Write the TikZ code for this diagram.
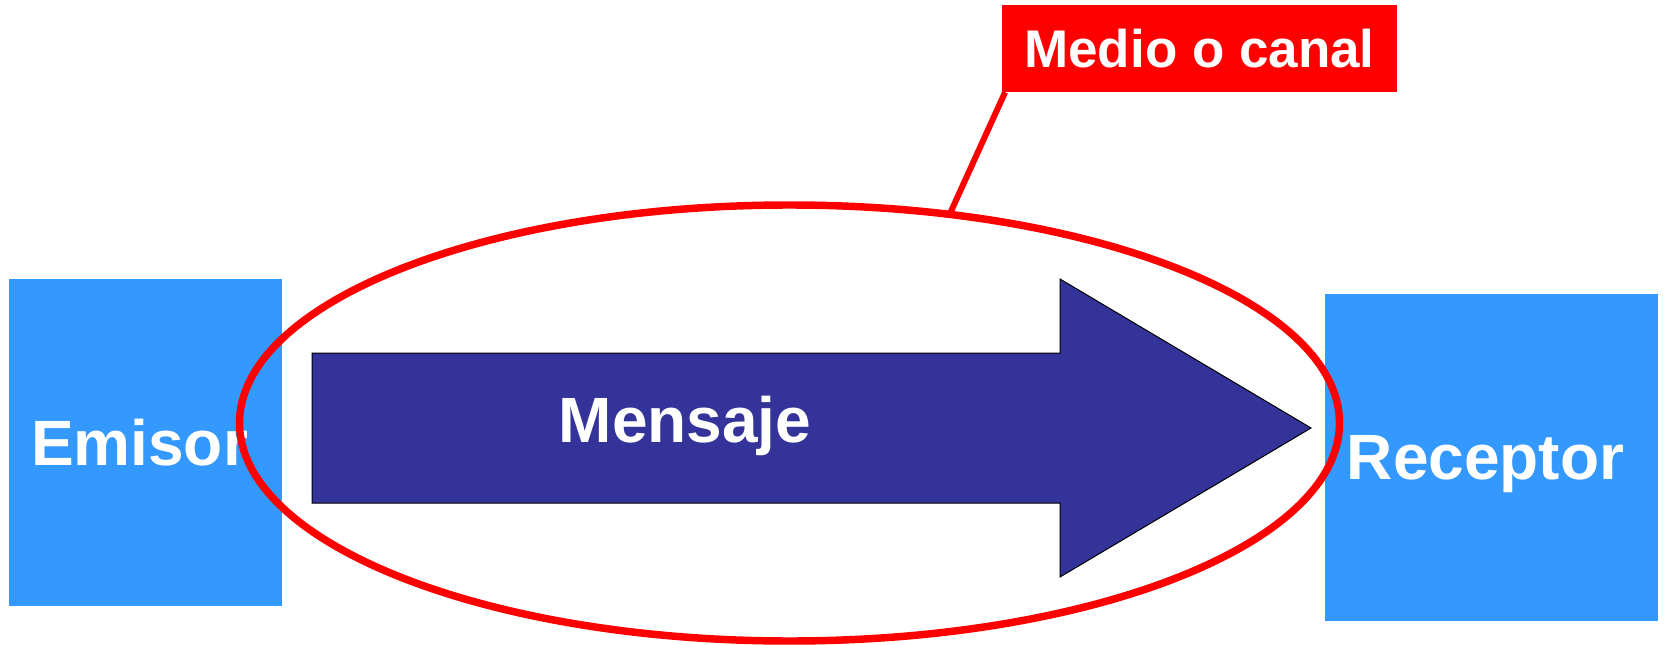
\documentclass[tikz,border=0pt]{standalone}
\usepackage{fontspec}
\setmainfont{Liberation Sans}
\usetikzlibrary{shapes,positioning}
\definecolor{boxblue}{RGB}{51,153,255}
\definecolor{msgblue}{RGB}{51,51,153}
\definecolor{canalred}{RGB}{255,0,0}

\begin{document}
\begin{tikzpicture}[x=0.75pt,y=-0.75pt,
  party/.style={fill=boxblue, text=white, font=\fontsize{48}{56}\selectfont\bfseries,
    minimum height=245.25pt, inner sep=0pt, text depth=0pt}]
\useasboundingbox (0,0) rectangle (1665,645);

% Emisor
\node[party, minimum width=204.75pt] (emisor) at (145.5,442.5) {\hspace*{-9pt}Emisor};

% Receptor
\node[party, minimum width=249.75pt] (receptor) at (1491.5,457.5) {\hspace*{-9pt}Receptor};

% Mensaje
\draw[fill=msgblue, line width=0.75pt] (312,353) -- (1060,353) -- (1060,279) -- (1311,428)
  -- (1060,577) -- (1060,503) -- (312,503) -- cycle;
\node[text=white, font=\fontsize{48}{56}\selectfont\bfseries, anchor=base] (mensaje) at (685,442) {Mensaje};

% Medio o canal
\node[shape=ellipse, draw=canalred, line width=5.6pt, minimum width=825pt, minimum height=327pt, inner sep=0pt] (canal) at (789.5,423) {};
\node[fill=canalred, text=white, font=\fontsize{39.75}{46}\selectfont\bfseries,
  minimum width=296.25pt, minimum height=65.25pt, inner sep=0pt, text depth=0pt] (medio) at (1199.5,48.5) {Medio o canal};
\draw[canalred, line width=4.5pt] ([xshift=2.5pt]medio.south west) -- ([shift={(0,4)}]canal.53.5);
\end{tikzpicture}
\end{document}
